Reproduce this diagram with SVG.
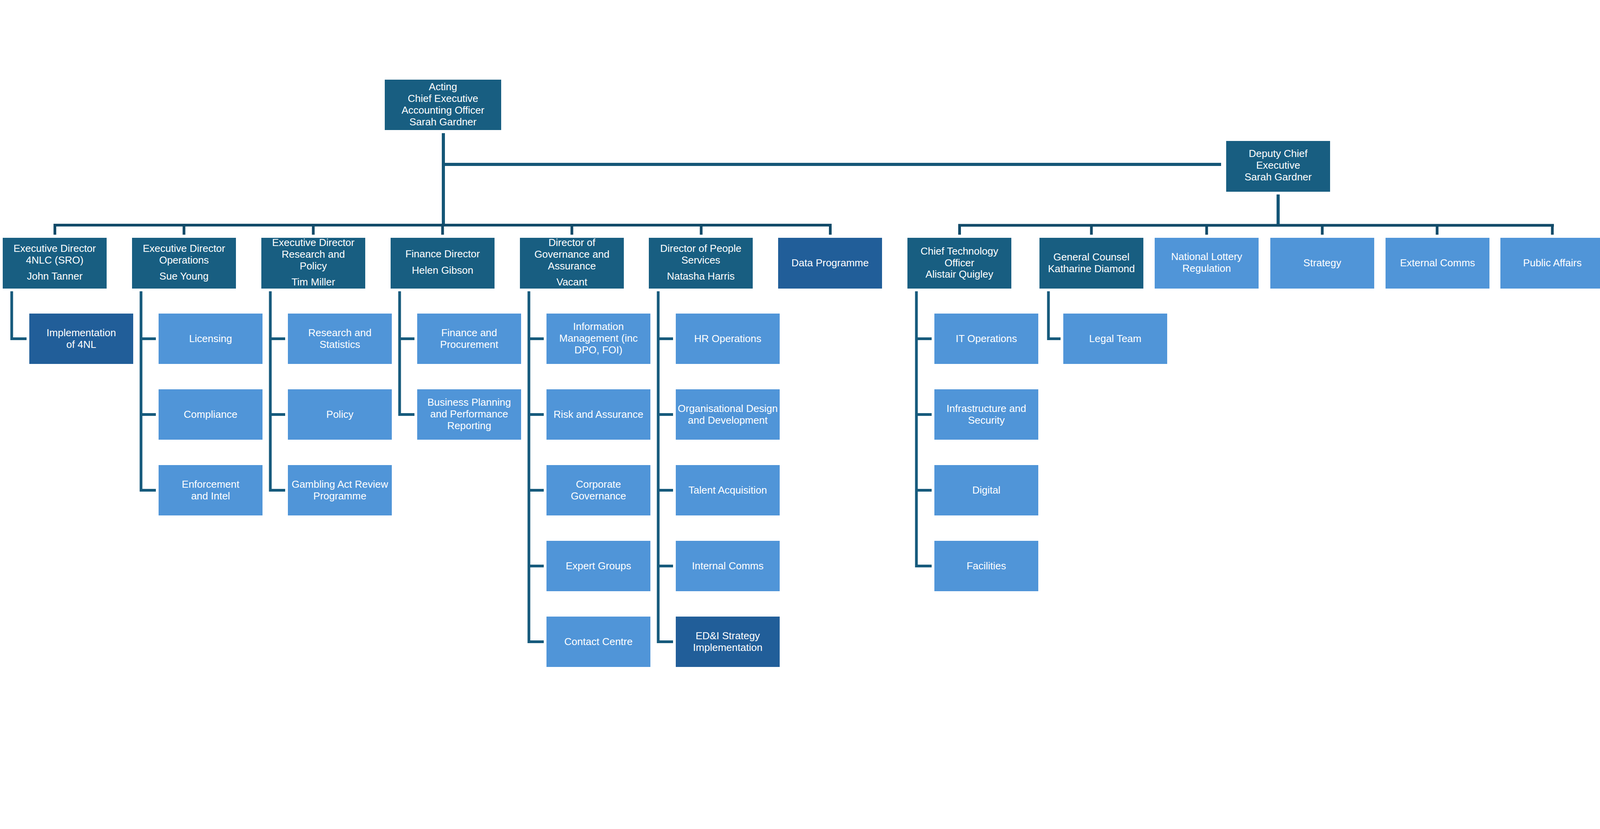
<svg xmlns="http://www.w3.org/2000/svg" width="4248" height="2123" viewBox="0 0 4248 2123">
<style>
.d{fill:#185E81}
.b{fill:#215E99}
.l{fill:#5095D8}
text{font-family:"Liberation Sans",Arial,sans-serif;font-size:26px;fill:#FFFFFF;text-anchor:middle}
.bus{stroke:#124B69;stroke-width:7;fill:none}
.top{stroke:#145677;stroke-width:8;fill:none}
.ch{stroke:#165A7C;stroke-width:7;fill:none;stroke-linejoin:miter}
</style>
<rect width="4248" height="2123" fill="#FFFFFF"/>
<g id="connectors">
<path class="top" d="M1135 341V577"/>
<path class="top" d="M1135 421H3126"/>
<path class="top" d="M3272 498V577"/>
<path class="bus" d="M137 576.5H2129"/>
<path class="bus" d="M2453 577H3978"/>
<path class="bus" d="M140.5 576V601M471 576V601M802 576V601M1133 576V601M1464 576V601M1795 576V601M2125.5 576V601"/>
<path class="bus" d="M2456.5 577V601M2794 577V601M3089 577V601M3385 577V601M3679 577V601M3974 577V601"/>
<path class="ch" d="M30 746V867.5H68"/>
<path class="ch" d="M361 746V1255.5H399M361 867.5H399M361 1061.5H399"/>
<path class="ch" d="M692 746V1255.5H730M692 867.5H730M692 1061.5H730"/>
<path class="ch" d="M1023 746V1061.5H1061M1023 867.5H1061"/>
<path class="ch" d="M1354 746V1643.5H1392M1354 867.5H1392M1354 1061.5H1392M1354 1255.5H1392M1354 1449.5H1392"/>
<path class="ch" d="M1685 746V1643.5H1723M1685 867.5H1723M1685 1061.5H1723M1685 1255.5H1723M1685 1449.5H1723"/>
<path class="ch" d="M2346 746V1449.5H2385M2346 867.5H2385M2346 1061.5H2385M2346 1255.5H2385"/>
<path class="ch" d="M2684 746V867.5H2715"/>
</g>
<g id="ceo"><rect class="d" x="985" y="204" width="298" height="129"/>
<text x="1134" y="231">Acting</text><text x="1134" y="261">Chief Executive</text><text x="1134" y="291">Accounting Officer</text><text x="1134" y="321">Sarah Gardner</text></g>
<g id="deputy"><rect class="d" x="3139" y="361" width="266" height="130"/>
<text x="3272" y="402">Deputy Chief</text><text x="3272" y="432">Executive</text><text x="3272" y="462">Sarah Gardner</text></g>

<g id="ed-4nlc"><rect class="d" x="7" y="609" width="266" height="130"/>
<text x="140" y="645">Executive Director</text><text x="140" y="675">4NLC (SRO)</text><text x="140" y="716">John Tanner</text></g>
<g id="ed-ops"><rect class="d" x="338" y="609" width="266" height="130"/>
<text x="471" y="645">Executive Director</text><text x="471" y="675">Operations</text><text x="471" y="716">Sue Young</text></g>
<g id="ed-research"><rect class="d" x="669" y="609" width="266" height="130"/>
<text x="802" y="630">Executive Director</text><text x="802" y="660">Research and</text><text x="802" y="690">Policy</text><text x="802" y="731">Tim Miller</text></g>
<g id="finance"><rect class="d" x="1000" y="609" width="266" height="130"/>
<text x="1133" y="659">Finance Director</text><text x="1133" y="701">Helen Gibson</text></g>
<g id="governance"><rect class="d" x="1331" y="609" width="266" height="130"/>
<text x="1464" y="630">Director of</text><text x="1464" y="660">Governance and</text><text x="1464" y="690">Assurance</text><text x="1464" y="731">Vacant</text></g>
<g id="people"><rect class="d" x="1661" y="609" width="266" height="130"/>
<text x="1794" y="645">Director of People</text><text x="1794" y="675">Services</text><text x="1794" y="716">Natasha Harris</text></g>
<g id="data"><rect class="b" x="1992" y="609" width="266" height="130"/>
<text x="2125" y="682">Data Programme</text></g>
<g id="cto"><rect class="d" x="2323" y="609" width="266" height="130"/>
<text x="2456" y="652">Chief Technology</text><text x="2456" y="682">Officer</text><text x="2456" y="711">Alistair Quigley</text></g>
<g id="gc"><rect class="d" x="2661" y="609" width="266" height="130"/>
<text x="2794" y="667">General Counsel</text><text x="2794" y="697">Katharine Diamond</text></g>
<g id="nlr"><rect class="l" x="2956" y="609" width="266" height="130"/>
<text x="3089" y="666">National Lottery</text><text x="3089" y="696">Regulation</text></g>
<g id="strategy"><rect class="l" x="3252" y="609" width="266" height="130"/>
<text x="3385" y="682">Strategy</text></g>
<g id="extcomms"><rect class="l" x="3547" y="609" width="266" height="130"/>
<text x="3680" y="682">External Comms</text></g>
<g id="publicaffairs"><rect class="l" x="3841" y="609" width="266" height="130"/>
<text x="3974" y="682">Public Affairs</text></g>

<g id="impl4nl"><rect class="b" x="75" y="803" width="266" height="129"/>
<text x="208" y="861">Implementation</text><text x="208" y="891">of 4NL</text></g>
<g id="licensing"><rect class="l" x="406" y="803" width="266" height="129"/><text x="539" y="876">Licensing</text></g>
<g id="compliance"><rect class="l" x="406" y="997" width="266" height="129"/><text x="539" y="1070">Compliance</text></g>
<g id="enforcement"><rect class="l" x="406" y="1191" width="266" height="129"/>
<text x="539" y="1249">Enforcement</text><text x="539" y="1279">and Intel</text></g>
<g id="research"><rect class="l" x="737" y="803" width="266" height="129"/>
<text x="870" y="861">Research and</text><text x="870" y="891">Statistics</text></g>
<g id="policy"><rect class="l" x="737" y="997" width="266" height="129"/><text x="870" y="1070">Policy</text></g>
<g id="gambling"><rect class="l" x="737" y="1191" width="266" height="129"/>
<text x="870" y="1249">Gambling Act Review</text><text x="870" y="1279">Programme</text></g>
<g id="finproc"><rect class="l" x="1068" y="803" width="266" height="129"/>
<text x="1201" y="861">Finance and</text><text x="1201" y="891">Procurement</text></g>
<g id="bizplan"><rect class="l" x="1068" y="997" width="266" height="129"/>
<text x="1201" y="1039">Business Planning</text><text x="1201" y="1069">and Performance</text><text x="1201" y="1099">Reporting</text></g>
<g id="infomgmt"><rect class="l" x="1399" y="803" width="266" height="129"/>
<text x="1532" y="845">Information</text><text x="1532" y="875">Management (inc</text><text x="1532" y="905">DPO, FOI)</text></g>
<g id="risk"><rect class="l" x="1399" y="997" width="266" height="129"/><text x="1532" y="1070">Risk and Assurance</text></g>
<g id="corpgov"><rect class="l" x="1399" y="1191" width="266" height="129"/>
<text x="1532" y="1249">Corporate</text><text x="1532" y="1279">Governance</text></g>
<g id="expert"><rect class="l" x="1399" y="1385" width="266" height="129"/><text x="1532" y="1458">Expert Groups</text></g>
<g id="contact"><rect class="l" x="1399" y="1579" width="266" height="129"/><text x="1532" y="1652">Contact Centre</text></g>
<g id="hrops"><rect class="l" x="1730" y="803" width="266" height="129"/><text x="1863" y="876">HR Operations</text></g>
<g id="orgdesign"><rect class="l" x="1730" y="997" width="266" height="129"/>
<text x="1863" y="1055">Organisational Design</text><text x="1863" y="1085">and Development</text></g>
<g id="talent"><rect class="l" x="1730" y="1191" width="266" height="129"/><text x="1863" y="1264">Talent Acquisition</text></g>
<g id="intcomms"><rect class="l" x="1730" y="1385" width="266" height="129"/><text x="1863" y="1458">Internal Comms</text></g>
<g id="edi"><rect class="b" x="1730" y="1579" width="266" height="129"/>
<text x="1863" y="1637">ED&amp;I Strategy</text><text x="1863" y="1667">Implementation</text></g>
<g id="itops"><rect class="l" x="2392" y="803" width="266" height="129"/><text x="2525" y="876">IT Operations</text></g>
<g id="infra"><rect class="l" x="2392" y="997" width="266" height="129"/>
<text x="2525" y="1055">Infrastructure and</text><text x="2525" y="1085">Security</text></g>
<g id="digital"><rect class="l" x="2392" y="1191" width="266" height="129"/><text x="2525" y="1264">Digital</text></g>
<g id="facilities"><rect class="l" x="2392" y="1385" width="266" height="129"/><text x="2525" y="1458">Facilities</text></g>
<g id="legal"><rect class="l" x="2722" y="803" width="266" height="129"/><text x="2855" y="876">Legal Team</text></g>
</svg>
